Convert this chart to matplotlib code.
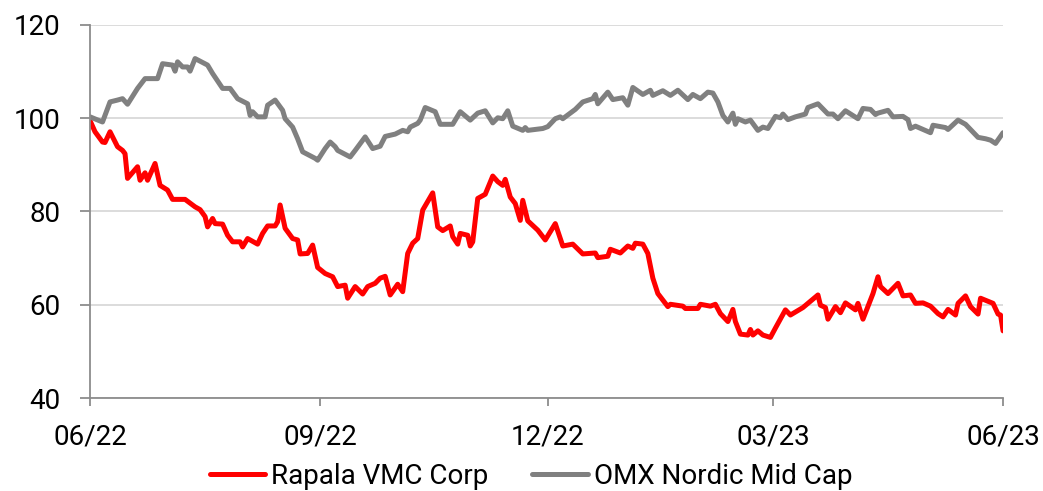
import pandas as pd
import matplotlib
matplotlib.use("Agg")
import matplotlib.pyplot as plt
import matplotlib.dates as mdates

plt.rcParams['font.family'] = ['Roboto', 'DejaVu Sans']

# Rapala VMC Corp, indexed to 100
rapala_dates = [
    '2022-06-01', '2022-06-03', '2022-06-06', '2022-06-07', '2022-06-09', '2022-06-12',
    '2022-06-14', '2022-06-15', '2022-06-16', '2022-06-20', '2022-06-21', '2022-06-23',
    '2022-06-24', '2022-06-27', '2022-06-29', '2022-07-02', '2022-07-04', '2022-07-09',
    '2022-07-13', '2022-07-15', '2022-07-17', '2022-07-18', '2022-07-20', '2022-07-21',
    '2022-07-24', '2022-07-26', '2022-07-28', '2022-07-31', '2022-08-01', '2022-08-03',
    '2022-08-07', '2022-08-09', '2022-08-11', '2022-08-14', '2022-08-15', '2022-08-16',
    '2022-08-18', '2022-08-21', '2022-08-23', '2022-08-24', '2022-08-27', '2022-08-29',
    '2022-08-31', '2022-09-03', '2022-09-06', '2022-09-08', '2022-09-11', '2022-09-12',
    '2022-09-15', '2022-09-18', '2022-09-20', '2022-09-23', '2022-09-25', '2022-09-27',
    '2022-09-29', '2022-10-02', '2022-10-04', '2022-10-06', '2022-10-08', '2022-10-10',
    '2022-10-12', '2022-10-16', '2022-10-18', '2022-10-20', '2022-10-23', '2022-10-24',
    '2022-10-26', '2022-10-27', '2022-10-30', '2022-10-31', '2022-11-01', '2022-11-03',
    '2022-11-06', '2022-11-09', '2022-11-11', '2022-11-13', '2022-11-14', '2022-11-16',
    '2022-11-18', '2022-11-20', '2022-11-21', '2022-11-23', '2022-11-27', '2022-11-30',
    '2022-12-04', '2022-12-07', '2022-12-11', '2022-12-15', '2022-12-20', '2022-12-21',
    '2022-12-25', '2022-12-26', '2022-12-30', '2023-01-02', '2023-01-04', '2023-01-05',
    '2023-01-08', '2023-01-10', '2023-01-12', '2023-01-14', '2023-01-16', '2023-01-18',
    '2023-01-19', '2023-01-24', '2023-01-25', '2023-01-30', '2023-01-31', '2023-02-04',
    '2023-02-06', '2023-02-08', '2023-02-11', '2023-02-13', '2023-02-14', '2023-02-16',
    '2023-02-19', '2023-02-20', '2023-02-21', '2023-02-23', '2023-02-25', '2023-02-28',
    '2023-03-02', '2023-03-06', '2023-03-08', '2023-03-13', '2023-03-19', '2023-03-20',
    '2023-03-22', '2023-03-23', '2023-03-26', '2023-03-28', '2023-03-30', '2023-04-03',
    '2023-04-04', '2023-04-06', '2023-04-10', '2023-04-12', '2023-04-13', '2023-04-16',
    '2023-04-20', '2023-04-22', '2023-04-25', '2023-04-27', '2023-04-30', '2023-05-03',
    '2023-05-06', '2023-05-08', '2023-05-10', '2023-05-13', '2023-05-14', '2023-05-17',
    '2023-05-19', '2023-05-22', '2023-05-23', '2023-05-28', '2023-05-30', '2023-05-31',
    '2023-06-01',
]
rapala_values = [
    99.5, 97.1, 94.9, 94.8, 97.1, 93.9,
    93.1, 92.4, 87.1, 89.6, 86.7, 88.3,
    86.7, 90.3, 85.6, 84.6, 82.6, 82.6,
    81.0, 80.4, 78.9, 76.7, 78.5, 77.4,
    77.3, 74.9, 73.5, 73.5, 72.4, 74.2,
    73.0, 75.3, 76.9, 76.9, 77.8, 81.4,
    76.4, 74.2, 73.9, 70.9, 71.0, 72.8,
    68.0, 66.7, 66.0, 63.9, 64.2, 61.4,
    63.9, 62.3, 63.9, 64.6, 65.7, 66.1,
    62.1, 64.4, 62.8, 71.0, 73.2, 74.2,
    80.3, 84.0, 76.7, 75.9, 76.9, 74.6,
    73.0, 75.3, 74.9, 72.6, 73.5, 82.8,
    83.7, 87.6, 86.4, 85.6, 86.9, 83.1,
    81.7, 78.1, 82.4, 78.0, 76.0, 73.9,
    77.4, 72.6, 73.0, 70.9, 71.1, 70.1,
    70.4, 71.9, 71.1, 72.6, 72.1, 73.2,
    73.0, 71.0, 65.7, 62.4, 61.0, 59.6,
    60.1, 59.7, 59.2, 59.2, 60.1, 59.7,
    60.1, 58.1, 56.4, 59.0, 56.4, 53.7,
    53.5, 54.7, 53.5, 54.4, 53.5, 53.0,
    55.0, 58.9, 57.8, 59.4, 62.1, 59.9,
    59.4, 56.9, 59.6, 58.3, 60.4, 58.9,
    60.3, 56.9, 62.4, 66.0, 63.9, 62.4,
    64.6, 61.9, 62.1, 60.3, 60.4, 59.7,
    58.1, 57.4, 59.0, 57.8, 60.3, 61.9,
    59.6, 58.0, 61.4, 60.3, 58.0, 57.8,
    54.4,
]

# OMX Nordic Mid Cap, indexed to 100
omx_dates = [
    '2022-06-01', '2022-06-06', '2022-06-09', '2022-06-12', '2022-06-14', '2022-06-16',
    '2022-06-20', '2022-06-23', '2022-06-28', '2022-06-30', '2022-07-04', '2022-07-05',
    '2022-07-06', '2022-07-08', '2022-07-10', '2022-07-11', '2022-07-13', '2022-07-18',
    '2022-07-20', '2022-07-24', '2022-07-27', '2022-07-30', '2022-08-03', '2022-08-04',
    '2022-08-05', '2022-08-07', '2022-08-10', '2022-08-11', '2022-08-14', '2022-08-17',
    '2022-08-18', '2022-08-21', '2022-08-23', '2022-08-25', '2022-08-30', '2022-08-31',
    '2022-09-03', '2022-09-05', '2022-09-07', '2022-09-08', '2022-09-13', '2022-09-15',
    '2022-09-19', '2022-09-22', '2022-09-25', '2022-09-27', '2022-10-01', '2022-10-04',
    '2022-10-06', '2022-10-07', '2022-10-10', '2022-10-11', '2022-10-13', '2022-10-17',
    '2022-10-19', '2022-10-24', '2022-10-27', '2022-10-31', '2022-11-03', '2022-11-06',
    '2022-11-09', '2022-11-11', '2022-11-13', '2022-11-15', '2022-11-17', '2022-11-21',
    '2022-11-22', '2022-11-23', '2022-11-29', '2022-12-01', '2022-12-04', '2022-12-06',
    '2022-12-07', '2022-12-12', '2022-12-15', '2022-12-19', '2022-12-20', '2022-12-21',
    '2022-12-25', '2022-12-27', '2022-12-31', '2023-01-02', '2023-01-04', '2023-01-08',
    '2023-01-11', '2023-01-12', '2023-01-16', '2023-01-19', '2023-01-22', '2023-01-26',
    '2023-01-28', '2023-01-31', '2023-02-03', '2023-02-05', '2023-02-07', '2023-02-09',
    '2023-02-11', '2023-02-13', '2023-02-14', '2023-02-15', '2023-02-18', '2023-02-20',
    '2023-02-23', '2023-02-25', '2023-02-27', '2023-03-02', '2023-03-04', '2023-03-05',
    '2023-03-07', '2023-03-10', '2023-03-14', '2023-03-15', '2023-03-19', '2023-03-23',
    '2023-03-25', '2023-03-27', '2023-03-30', '2023-04-04', '2023-04-06', '2023-04-09',
    '2023-04-11', '2023-04-12', '2023-04-16', '2023-04-18', '2023-04-22', '2023-04-24',
    '2023-04-25', '2023-04-27', '2023-04-30', '2023-05-03', '2023-05-04', '2023-05-09',
    '2023-05-10', '2023-05-14', '2023-05-17', '2023-05-22', '2023-05-25', '2023-05-27',
    '2023-05-29', '2023-06-01',
]
omx_values = [
    100.3, 99.2, 103.5, 103.9, 104.2, 103.0,
    106.4, 108.5, 108.5, 111.7, 111.4, 110.1,
    112.1, 111.0, 111.0, 110.1, 112.8, 111.4,
    109.6, 106.4, 106.4, 104.2, 103.1, 100.6,
    101.4, 100.3, 100.3, 102.8, 103.9, 101.7,
    99.9, 98.1, 95.6, 92.8, 91.4, 91.0,
    93.5, 94.9, 93.9, 93.1, 91.7, 93.1,
    96.0, 93.5, 94.0, 96.1, 96.6, 97.4,
    97.1, 98.1, 98.9, 99.6, 102.3, 101.4,
    98.7, 98.7, 101.4, 99.6, 101.1, 101.6,
    99.0, 100.1, 99.9, 101.6, 98.3, 97.4,
    98.0, 97.4, 97.8, 98.2, 99.9, 100.3,
    99.9, 101.9, 103.5, 104.2, 105.1, 103.1,
    105.6, 104.0, 104.4, 102.8, 106.6, 105.1,
    106.0, 104.9, 105.9, 104.9, 106.0, 104.0,
    105.1, 104.2, 105.6, 105.4, 103.5, 100.6,
    99.2, 101.1, 98.7, 99.9, 99.2, 99.6,
    97.4, 98.1, 97.8, 100.4, 100.1, 100.9,
    99.7, 100.3, 100.9, 102.3, 103.1, 100.9,
    100.9, 99.9, 101.6, 99.9, 102.1, 101.9,
    100.8, 101.1, 101.7, 100.3, 100.4, 99.7,
    97.8, 98.3, 97.6, 96.9, 98.5, 98.0,
    97.6, 99.6, 98.7, 95.9, 95.6, 95.3,
    94.6, 96.9,
]

tick_dates = ['2022-06-01', '2022-09-01', '2022-12-01', '2023-03-01', '2023-06-01']

fig = plt.figure(figsize=(10.43, 4.91), dpi=100)
ax = fig.add_axes([0.0863, 0.1894, 0.8754, 0.7597])

ax.plot(pd.to_datetime(rapala_dates), rapala_values, color='#FF0000', lw=3.6,
        label='Rapala VMC Corp', solid_joinstyle='round', solid_capstyle='round')
ax.plot(pd.to_datetime(omx_dates), omx_values, color='#808080', lw=3.6,
        label='OMX Nordic Mid Cap', solid_joinstyle='round', solid_capstyle='round')

ax.set_ylim(40, 120)
ax.set_yticks([40, 60, 80, 100, 120])
ax.set_xlim(pd.Timestamp('2022-06-01'), pd.Timestamp('2023-06-01'))
ax.set_xticks(pd.to_datetime(tick_dates))
ax.xaxis.set_major_formatter(mdates.DateFormatter('%m/%y'))

ax.grid(axis='y', color='#D9D9D9', lw=1.3)
ax.set_axisbelow(True)
for s in ['top', 'right']:
    ax.spines[s].set_visible(False)
for s in ['left', 'bottom']:
    ax.spines[s].set_color('#8C8C8C')
    ax.spines[s].set_linewidth(1.3)

ax.tick_params(axis='y', length=7, width=1.3, color='#8C8C8C', pad=14,
               labelsize=20, labelcolor='black')
ax.tick_params(axis='x', length=6, width=1.3, color='#8C8C8C', pad=12,
               labelsize=20, labelcolor='black')

fig.legend(loc='center', bbox_to_anchor=(0.509, 0.03), ncol=2, frameon=False,
           fontsize=20, handlelength=2.0, handletextpad=0.2, columnspacing=1.6)

plt.savefig('out.png', dpi=100)
